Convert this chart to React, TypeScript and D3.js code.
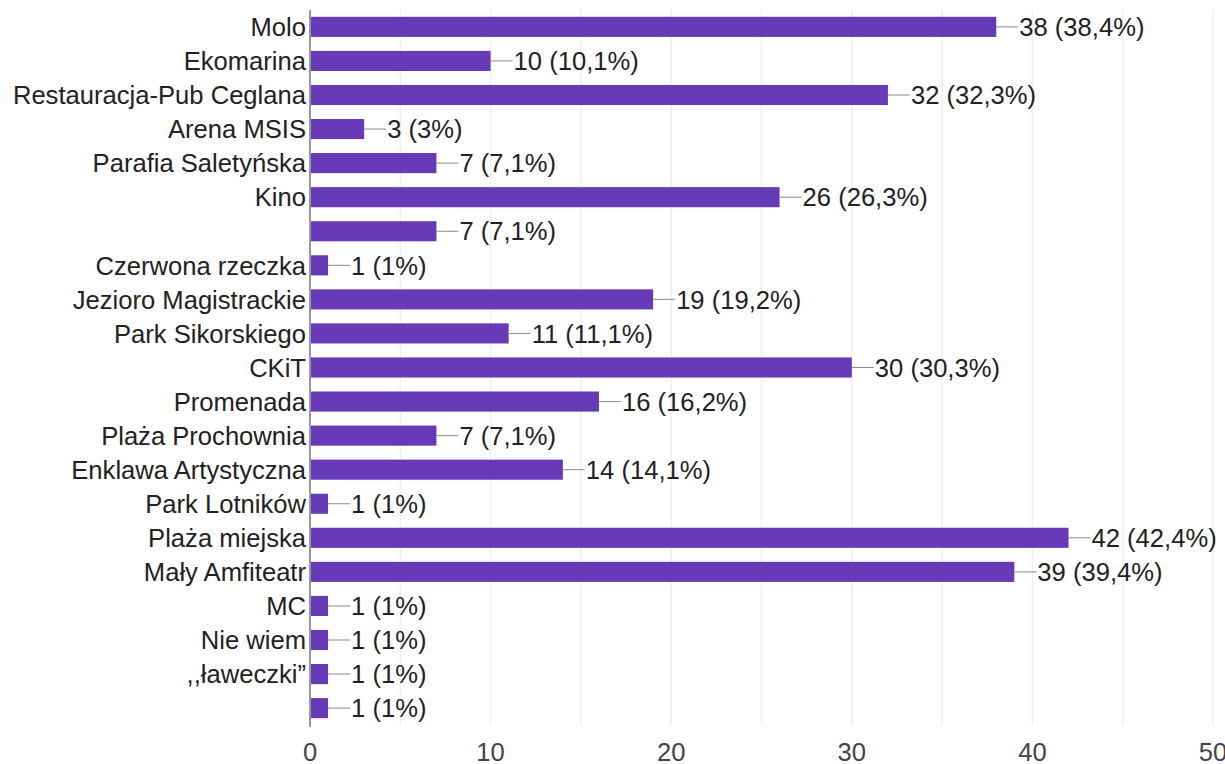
import * as d3 from "d3";
import { useEffect, useRef } from "react";

const categories = [
  "Molo",
  "Ekomarina",
  "Restauracja-Pub Ceglana",
  "Arena MSIS",
  "Parafia Saletyńska",
  "Kino",
  "",
  "Czerwona rzeczka",
  "Jezioro Magistrackie",
  "Park Sikorskiego",
  "CKiT",
  "Promenada",
  "Plaża Prochownia",
  "Enklawa Artystyczna",
  "Park Lotników",
  "Plaża miejska",
  "Mały Amfiteatr",
  "MC",
  "Nie wiem",
  ",,ławeczki\u201d",
  " ",
];

const counts = [38, 10, 32, 3, 7, 26, 7, 1, 19, 11, 30, 16, 7, 14, 1, 42, 39, 1, 1, 1, 1];

const percents = [
  "38,4%", "10,1%", "32,3%", "3%", "7,1%", "26,3%", "7,1%", "1%", "19,2%", "11,1%",
  "30,3%", "16,2%", "7,1%", "14,1%", "1%", "42,4%", "39,4%", "1%", "1%", "1%", "1%",
];

const xTicks = [0, 10, 20, 30, 40, 50];
const gridTicks = [5, 10, 15, 20, 25, 30, 35, 40, 45, 50];

export default function App() {
  const svgRef = useRef<SVGSVGElement>(null);

  useEffect(() => {
    const svg = d3.select(svgRef.current);
    svg.selectAll("*").remove();

    const width = 1225;
    const height = 764;
    const margin = { top: 10, right: 12, bottom: 39, left: 310 };
    const font = "Arial, 'Liberation Sans', sans-serif";
    const fontSize = 25.6;

    const rows = categories.map((c, i) => ({ key: i, label: c, value: counts[i], pct: percents[i] }));

    const x = d3.scaleLinear()
      .domain([0, 50])
      .range([margin.left, width - margin.right]);

    const y = d3.scaleBand<number>()
      .domain(rows.map(d => d.key))
      .range([margin.top, height - margin.bottom])
      .paddingInner(0.41)
      .paddingOuter(0.2);

    // gridlines
    svg.append("g")
      .selectAll("line")
      .data(gridTicks)
      .enter()
      .append("line")
      .attr("x1", d => x(d))
      .attr("x2", d => x(d))
      .attr("y1", margin.top)
      .attr("y2", height - margin.bottom)
      .attr("stroke", "#efefef")
      .attr("stroke-width", 1.5);

    // bars
    svg.append("g")
      .selectAll("rect")
      .data(rows)
      .enter()
      .append("rect")
      .attr("x", x(0))
      .attr("y", d => y(d.key)!)
      .attr("width", d => x(d.value) - x(0))
      .attr("height", y.bandwidth())
      .attr("fill", "#673ab7");

    // connector lines
    svg.append("g")
      .selectAll("line")
      .data(rows)
      .enter()
      .append("line")
      .attr("x1", d => x(d.value))
      .attr("x2", d => x(d.value) + 22)
      .attr("y1", d => y(d.key)! + y.bandwidth() / 2)
      .attr("y2", d => y(d.key)! + y.bandwidth() / 2)
      .attr("stroke", "#8a8a8a")
      .attr("stroke-width", 1);

    // value labels
    svg.append("g")
      .selectAll("text")
      .data(rows)
      .enter()
      .append("text")
      .attr("x", d => x(d.value) + 23)
      .attr("y", d => y(d.key)! + y.bandwidth() / 2)
      .attr("dy", "0.36em")
      .attr("font-family", font)
      .attr("font-size", fontSize)
      .attr("fill", "#222")
      .text(d => `${d.value} (${d.pct})`);

    // category labels
    svg.append("g")
      .selectAll("text")
      .data(rows)
      .enter()
      .append("text")
      .attr("x", margin.left - 4)
      .attr("y", d => y(d.key)! + y.bandwidth() / 2)
      .attr("dy", "0.36em")
      .attr("text-anchor", "end")
      .attr("font-family", font)
      .attr("font-size", fontSize)
      .attr("fill", "#222")
      .text(d => d.label);

    // zero axis line
    svg.append("line")
      .attr("x1", x(0))
      .attr("x2", x(0))
      .attr("y1", margin.top)
      .attr("y2", height - margin.bottom + 2)
      .attr("stroke", "#999")
      .attr("stroke-width", 2);

    // x tick labels
    svg.append("g")
      .selectAll("text")
      .data(xTicks)
      .enter()
      .append("text")
      .attr("x", d => x(d))
      .attr("y", 752)
      .attr("dy", "0.34em")
      .attr("text-anchor", "middle")
      .attr("font-family", font)
      .attr("font-size", fontSize)
      .attr("fill", "#444")
      .text(d => d);
  }, []);

  return (
    <svg
      ref={svgRef}
      width={1225}
      height={764}
      style={{ position: "absolute", left: 0, top: 0, background: "#fff" }}
    />
  );
}
